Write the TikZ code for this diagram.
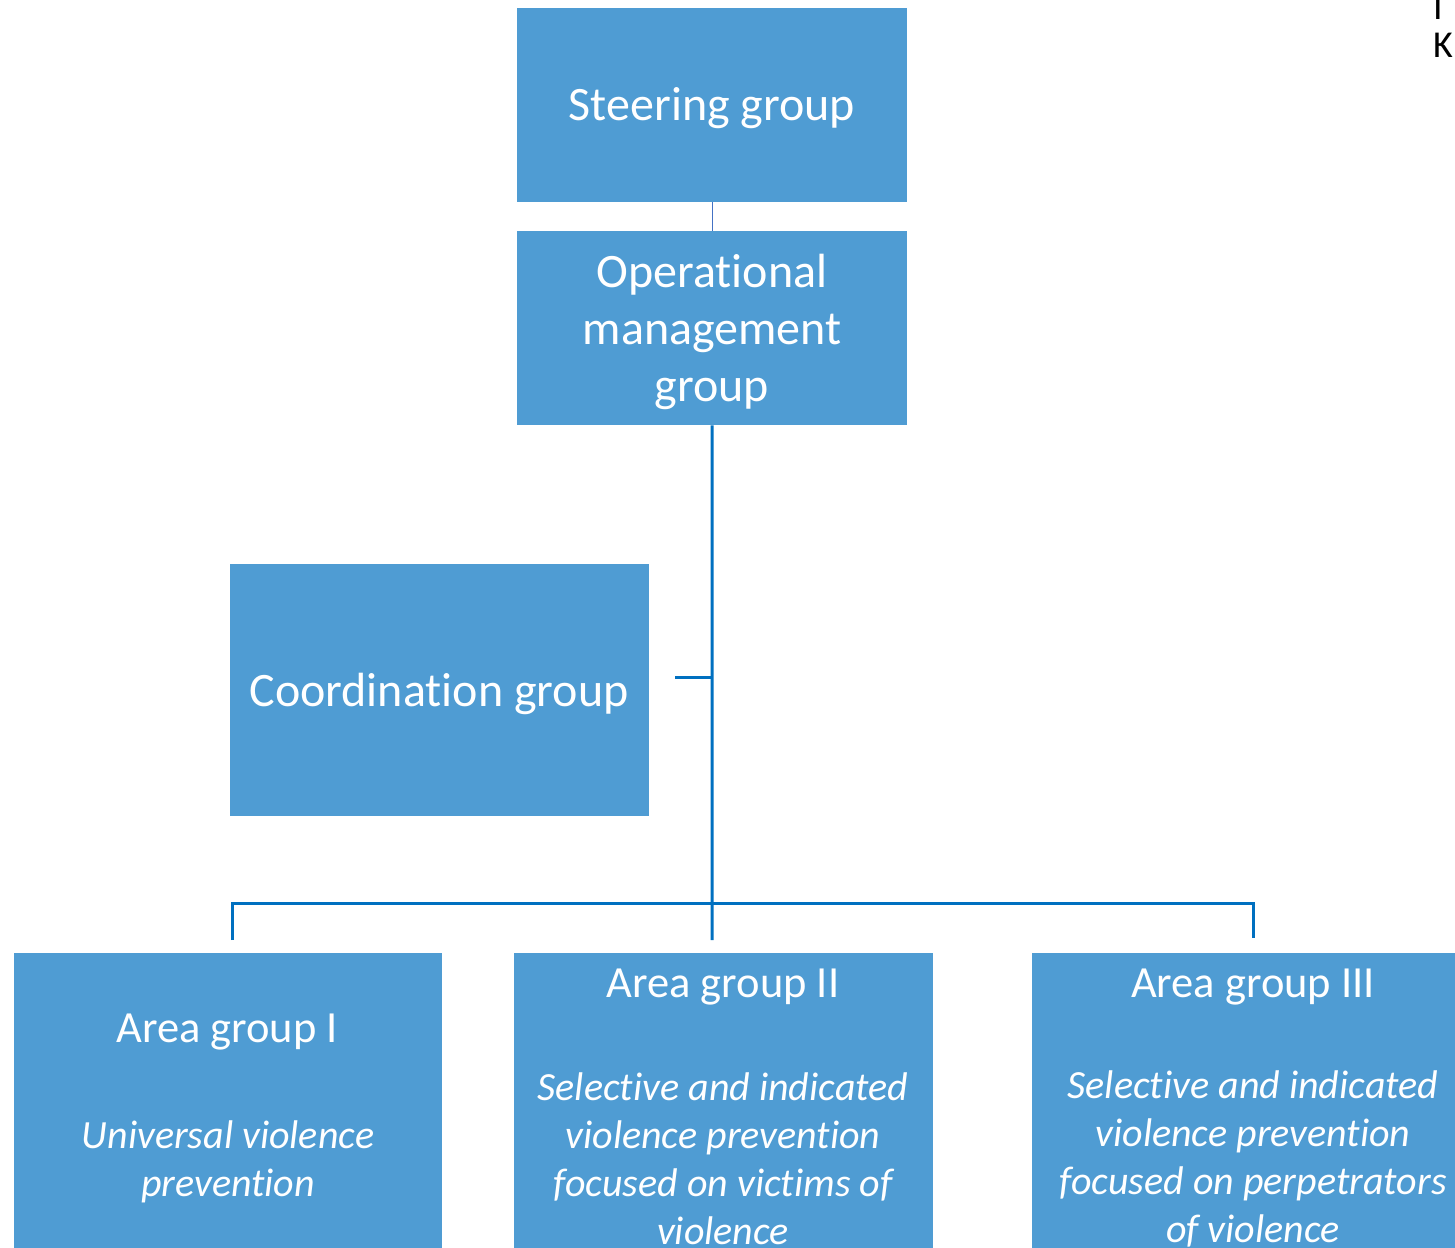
\documentclass[tikz,border=0pt]{standalone}
\usepackage{fontspec}
\setmainfont[Ligatures=NoCommon]{Carlito}
\definecolor{boxblue}{RGB}{79,156,211}
\definecolor{lineblue}{RGB}{0,112,192}
\definecolor{thinblue}{RGB}{68,114,196}
\tikzset{
  orgbox/.style={fill=boxblue, draw=none, inner sep=0pt, anchor=north west},
  boxtext/.style={text=white, align=center, inner sep=0pt, font=\fontsize{48}{57}\selectfont},
  headtext/.style={text=white, align=center, inner sep=0pt, font=\fontsize{44.5}{52}\selectfont},
  bodytext/.style={text=white, align=center, inner sep=0pt, font=\fontsize{40}{48}\selectfont\itshape},
  thickconn/.style={draw=lineblue, line width=3pt},
  thinconn/.style={draw=thinblue, line width=1pt},
}
\begin{document}
\begin{tikzpicture}[x=1pt,y=-1pt]
\useasboundingbox (0,0) rectangle (1455,1247);
\clip (0,0) rectangle (1455,1247);
% boxes
\node[orgbox, minimum width=390pt, minimum height=194pt] (steer) at (517,8) {};
\node[orgbox, minimum width=390pt, minimum height=194pt] (oper) at (517,231) {};
\node[orgbox, minimum width=419pt, minimum height=252pt] (coord) at (230,564) {};
\node[orgbox, minimum width=428pt, minimum height=330pt] (areaI) at (14,953) {};
\node[orgbox, minimum width=419pt, minimum height=330pt] (areaII) at (514,953) {};
\node[orgbox, minimum width=442pt, minimum height=330pt] (areaIII) at (1032,953) {};
% texts
\node[boxtext] (steertxt) at (712,108) {Steering group};
\node[boxtext] (opertxt) at (712,332) {Operational\\management\\group};
\node[boxtext] (coordtxt) at (439,694) {Coordination group};
\node[headtext] (areaIh) at (227,1032) {Area group I};
\node[bodytext] (areaIb) at (228,1162) {Universal violence\\prevention};
\node[headtext] (areaIIh) at (723,987) {Area group II};
\node[bodytext] (areaIIb) at (723,1159) {Selective and indicated\\violence prevention\\focused on victims of\\violence};
\node[headtext] (areaIIIh) at (1253,987) {Area group III};
\node[bodytext] (areaIIIb) at (1253,1159) {Selective and indicated\\violence prevention\\focused on perpetrators\\of violence};
% fragments top right
\node[anchor=base west, inner sep=0pt, font=\fontsize{38}{44}\selectfont] (fragI) at (1433,20) {I};
\node[anchor=base west, inner sep=0pt, font=\fontsize{38}{44}\selectfont] (fragK) at (1433,58) {K};
% connector coordinates
\coordinate (trunkend) at (712,940);
\coordinate (bus) at (712,903);
\coordinate (busL) at (232,903);
\coordinate (busR) at (1253,903);
\coordinate (dropL) at (232,940);
\coordinate (dropR) at (1253,938);
\coordinate (stubA) at (675,677);
\coordinate (stubB) at (712,677);
% connectors
\draw[thinconn] (steer.south) -- (oper.north);
\draw[thickconn] (oper.south) -- (trunkend);
\draw[thickconn] (stubA) -- (stubB);
\draw[thickconn] (dropL) -- (busL) -- (busR) -- (dropR);
\end{tikzpicture}
\end{document}
